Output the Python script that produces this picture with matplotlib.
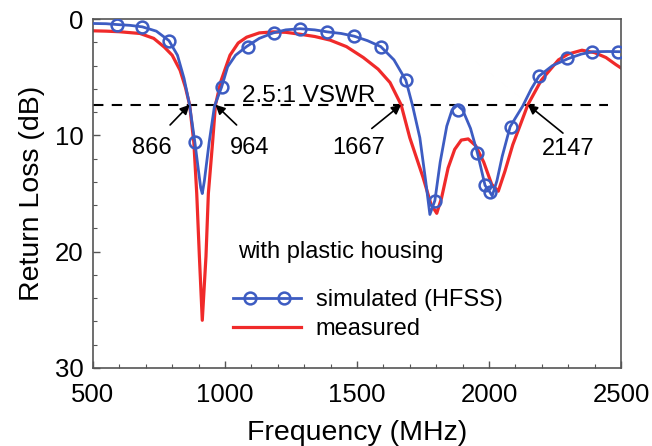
import matplotlib
matplotlib.use("Agg")
import matplotlib.pyplot as plt
from matplotlib.ticker import MultipleLocator
from matplotlib.legend_handler import HandlerLine2D
from matplotlib.lines import Line2D

plt.rcParams['font.family'] = ['Liberation Sans', 'DejaVu Sans']

# simulated (HFSS) curve
sim_freq = [500, 550, 590, 640, 687, 740, 788, 820, 845, 866, 886, 900, 908, 914, 922, 940,
            960, 987, 1010, 1040, 1082, 1130, 1183, 1230, 1284, 1340, 1387, 1440, 1489, 1540,
            1590, 1640, 1685, 1710, 1738, 1760, 1776, 1795, 1815, 1840, 1860, 1880, 1900, 1930,
            1956, 1985, 2004, 2012, 2030, 2050, 2080, 2100, 2127, 2160, 2189, 2240, 2299, 2350,
            2394, 2450, 2500]
sim_rl = [0.37, 0.39, 0.46, 0.53, 0.66, 1.03, 1.85, 3.1, 5.1, 7.4, 10.6, 13.1, 14.5, 15.0, 13.9, 10.6,
          7.5, 5.85, 4.1, 3.1, 2.35, 1.65, 1.18, 0.92, 0.82, 0.92, 1.09, 1.23, 1.46, 1.85,
          2.36, 3.5, 5.25, 7.4, 10.2, 13.9, 16.8, 15.6, 12.3, 9.2, 7.8, 7.4, 7.8, 9.4,
          11.5, 14.3, 14.9, 15.2, 13.9, 11.8, 9.25, 8.5, 7.5, 6.0, 4.9, 4.0, 3.4, 3.0,
          2.8, 2.78, 2.8]

# simulated marker points
mk_freq = [590, 687, 788, 886, 987, 1088, 1186, 1285, 1386, 1488, 1589, 1685, 1795, 1884,
           1955, 1985, 2004, 2082, 2189, 2295, 2390, 2490]
mk_rl = [0.46, 0.66, 1.85, 10.6, 5.85, 2.4, 1.2, 0.85, 1.1, 1.46, 2.36, 5.25, 15.6, 7.8,
         11.5, 14.3, 14.9, 9.25, 4.9, 3.35, 2.8, 2.8]

# measured curve
meas_freq = [500, 550, 600, 678, 730, 770, 800, 830, 850, 866, 882, 893, 903, 914, 928, 937,
             953, 964, 985, 1019, 1050, 1082, 1130, 1183, 1230, 1280, 1340, 1398, 1460, 1524,
             1580, 1625, 1667, 1700, 1750, 1780, 1802, 1820, 1845, 1870, 1895, 1921, 1950, 1980,
             2010, 2035, 2060, 2090, 2120, 2147, 2198, 2263, 2300, 2352, 2400, 2443, 2480, 2500]
meas_rl = [1.0, 1.03, 1.08, 1.23, 1.65, 2.4, 3.1, 4.4, 5.85, 7.36, 10.6, 15.0, 20.4, 25.9, 20.4, 15.0,
           10.6, 7.36, 5.3, 3.1, 2.05, 1.55, 1.18, 1.09, 1.13, 1.28, 1.49, 1.8, 2.36, 3.3,
           4.3, 5.45, 7.36, 10.2, 13.6, 15.9, 16.7, 15.4, 12.8, 11.2, 10.4, 10.3, 10.9, 12.3,
           14.2, 14.8, 13.1, 10.8, 9.0, 7.36, 5.25, 3.5, 3.0, 2.67, 2.88, 3.3, 3.9, 4.2]

vswr_level = 7.36
vswr_span = [500, 2450]

band_edges = [866, 964, 1667, 2147]
edge_labels = ['866', '964', '1667', '2147']
label_pos = [(722, 11.1), (1095, 11.1), (1508, 11.1), (2300, 11.2)]
tail_pos = [(792, 9.1), (1044, 9.1), (1556, 9.4), (2280, 9.8)]

BLUE = '#3d5cc2'
RED = '#f02a2a'


class HandlerLineTwoMarkers(HandlerLine2D):
    """Full-width line with two markers inset from the ends."""
    def create_artists(self, legend, orig_handle, xdescent, ydescent, width, height,
                       fontsize, trans):
        y = (height - ydescent) / 2
        line = Line2D([-xdescent, -xdescent + width], [y, y],
                      color=orig_handle.get_color(), lw=orig_handle.get_linewidth())
        pad = 0.72 * fontsize
        mk = Line2D([-xdescent + pad, -xdescent + width - pad], [y, y], ls='none',
                    marker=orig_handle.get_marker(), ms=orig_handle.get_markersize(),
                    mfc='none', mec=orig_handle.get_markeredgecolor(),
                    mew=orig_handle.get_markeredgewidth())
        line.set_transform(trans)
        mk.set_transform(trans)
        return [line, mk]


fig = plt.figure(figsize=(6.52, 4.46), dpi=100)
ax = fig.add_axes([0.1426, 0.175, 0.8099, 0.782])

ax.plot(vswr_span, [vswr_level, vswr_level], color='black', lw=1.5, ls=(0, (5, 4)), zorder=1)
ax.plot(meas_freq, meas_rl, color=RED, lw=2.3, zorder=2)
ax.plot(sim_freq, sim_rl, color=BLUE, lw=2.0, zorder=3)
ax.plot(mk_freq, mk_rl, ls='none', marker='o', ms=8.5, mfc='none', mec=BLUE, mew=1.8, zorder=4)

# legend handles
h_sim, = ax.plot([], [], color=BLUE, lw=2.0, marker='o', ms=8.5, mfc='none', mec=BLUE, mew=1.8)
h_meas, = ax.plot([], [], color=RED, lw=2.3)
leg = ax.legend([h_sim, h_meas], ['simulated (HFSS)', 'measured'],
                loc='center left', bbox_to_anchor=(0.265, 0.152), frameon=False, fontsize=17,
                handlelength=2.9, handletextpad=0.6, labelspacing=0.3, borderpad=0,
                borderaxespad=0, numpoints=1,
                handler_map={h_sim: HandlerLineTwoMarkers()})

ax.text(1049, 20.0, 'with plastic housing', fontsize=17, va='center', ha='left')
ax.text(1063, 7.15, '2.5:1 VSWR', fontsize=17.5, va='baseline', ha='left')

for f, lab, (lx, ly), (tx, ty) in zip(band_edges, edge_labels, label_pos, tail_pos):
    ax.annotate('', xy=(f, vswr_level), xytext=(tx, ty),
                arrowprops=dict(arrowstyle='-|>', color='black', lw=1.2,
                                mutation_scale=14, shrinkA=0, shrinkB=0))
    ax.text(lx, ly, lab, fontsize=17, ha='center', va='center')

ax.set_xlim(500, 2500)
ax.set_ylim(30, 0)
ax.xaxis.set_major_locator(MultipleLocator(500))
ax.xaxis.set_minor_locator(MultipleLocator(100))
ax.yaxis.set_major_locator(MultipleLocator(10))
ax.yaxis.set_minor_locator(MultipleLocator(2))
ax.tick_params(which='both', direction='in', labelsize=18.5, color='#555555')
ax.tick_params(which='major', length=5, width=1)
ax.tick_params(which='minor', length=3, width=0.8)
ax.tick_params(axis='x', pad=11)
ax.tick_params(axis='y', pad=7)
for s in ax.spines.values():
    s.set_color('#555555')
    s.set_linewidth(1.2)

ax.set_xlabel('Frequency (MHz)', fontsize=20.5, labelpad=9)
ax.set_ylabel('Return Loss (dB)', fontsize=20.5, labelpad=7)

fig.savefig('out.png', dpi=100)
